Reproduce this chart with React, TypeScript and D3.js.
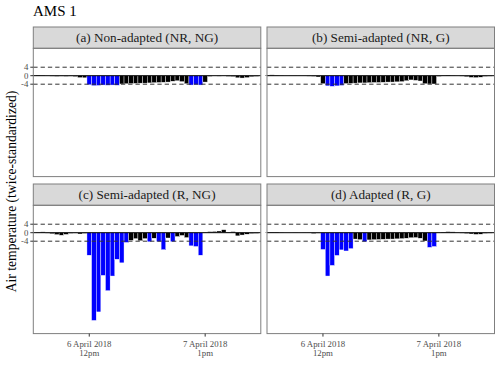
import React from "react";
import * as d3 from "d3";

// hourly values, index 0 = 6 April 2018 00:00
const nonAdapted = [
  0.2, 0.3, 0.2, -0.1, -0.2, -0.3, -0.2, -0.3, -0.2, -0.4, -0.9, -1.0,
  -4.3, -4.7, -4.6, -4.4, -4.5, -4.4, -4.5,
  -3.9, -3.8, -3.7, -3.6, -3.5, -3.5, -3.4, -3.3, -3.2, -3.1, -3.0, -2.6, -2.4, -2.8, -3.8,
  -4.4, -4.3, -4.4,
  -3.0, -0.3, -0.1, -0.2, -0.1, -0.3, -0.4, -1.0, -1.1, -0.9, -0.5, -0.3,
];
const semiAdaptedNRG = [
  0.3, 0.4, 0.2, 0.1, 0.0, -0.1, -0.1, -0.1, -0.1, -0.2, -0.3, -0.6,
  -3.8, -4.8, -5.0, -4.8, -4.6,
  -3.7, -3.6, -3.5, -3.4, -3.4, -3.3, -3.2, -3.2, -3.1, -3.0, -3.0, -2.9, -2.8, -2.4, -2.0, -2.2, -2.5,
  -3.8, -3.9, -3.9,
  -0.3, 0.2, 0.3, 0.1, 0.0, -0.2, -0.5, -0.8, -0.9, -0.7, -0.3, -0.2,
];
const semiAdaptedRNG = [
  0.1, 0.2, 0.4, -0.2, -0.5, -0.9, -1.2, -0.8, -0.3, -0.2, -0.6, -0.3,
  -10.6, -41.3, -37.3, -20.1, -27.3, -20.4, -12.5, -14.2, -4.6,
  -3.6, -2.8, -3.8, -2.8,
  -4.3, -2.6, -4.3, -8.0, -2.5, -4.3, -1.8, -1.3, -2.3,
  -6.2, -6.5, -10.6,
  0.2, 0.5, 0.6, 0.8, 1.4, 0.3, 0.5, -1.5, -1.1, -0.7, -0.4, -0.3,
];
const adapted = [
  0.2, 0.3, 0.3, 0.1, 0.0, 0.0, -0.1, 0.0, -0.1, -0.1, -0.4, -0.2,
  -7.9, -20.4, -15.4, -10.7, -8.1, -8.6, -7.5,
  -3.0, -3.3, -4.3,
  -3.4, -3.3, -3.2, -3.1, -3.0, -3.0, -2.9, -2.8, -2.6, -2.4, -2.3, -2.6,
  -3.9, -6.9, -6.5,
  0.1, 0.3, 0.5, 0.4, 0.1, -0.2, -0.4, -0.6, -0.8, -0.7, -0.3, -0.2,
];

const panelTitles = [
  "(a) Non-adapted (NR, NG)",
  "(b) Semi-adapted (NR, G)",
  "(c) Semi-adapted (R, NG)",
  "(d) Adapted (R, G)",
];
const panelSeries = [nonAdapted, semiAdaptedNRG, semiAdaptedRNG, adapted];

const yTicks = [4, 0, -4];
const limit = 4;
const xTickHours = [12, 37];
const xTickLabels = [
  ["6 April 2018", "12pm"],
  ["7 April 2018", "1pm"],
];

const font = "'Liberation Serif', 'Times New Roman', serif";

export default function App() {
  const colX = [33.3, 267];
  const rowY = [27, 184];
  const panelW = 227.5;
  const stripH = 21.3;
  const panelH = 128.3;

  const x = d3.scaleLinear().domain([-0.07, 49.0]).range([0, panelW]);
  const y = d3.scaleLinear().domain([12.9, -47.5]).range([0, panelH]);
  const bw = x(1) - x(0);

  return (
    <svg
      width={500}
      height={365}
      style={{ position: "absolute", left: 0, top: 0, background: "white" }}
      fontFamily={font}
    >
      <text x={33} y={16} fontSize={15} fill="#000">
        AMS 1
      </text>

      <text
        transform={`translate(16,191.5) rotate(-90)`}
        textAnchor="middle"
        fontSize={13.6}
        fill="#000"
      >
        Air temperature (twice-standardized)
      </text>

      {panelSeries.map((values, p) => {
        const col = p % 2;
        const row = Math.floor(p / 2);
        const px = colX[col];
        const sy = rowY[row];
        const py = sy + stripH;
        return (
          <g key={p}>
            <rect
              x={px}
              y={sy}
              width={panelW}
              height={stripH}
              fill="#d9d9d9"
              stroke="#7f7f7f"
              strokeWidth={1}
            />
            <text
              x={px + panelW / 2}
              y={sy + stripH / 2 + 4.5}
              textAnchor="middle"
              fontSize={13.2}
              fill="#1a1a1a"
            >
              {panelTitles[p]}
            </text>
            <g transform={`translate(${px},${py})`}>
              {values.map((v, i) => (
                <rect
                  key={i}
                  x={x(i) - bw / 2}
                  y={Math.min(y(v), y(0))}
                  width={bw}
                  height={Math.abs(y(v) - y(0))}
                  fill={v < -limit ? "#0000ff" : "#000000"}
                  stroke="#ffffff"
                  strokeWidth={0.4}
                />
              ))}
              <line x1={0} x2={panelW} y1={y(0)} y2={y(0)} stroke="#000" strokeWidth={1} />
              {[limit, -limit].map((t) => (
                <line
                  key={t}
                  x1={0}
                  x2={panelW}
                  y1={y(t)}
                  y2={y(t)}
                  stroke="#333"
                  strokeWidth={1}
                  strokeDasharray="4.3,3"
                />
              ))}
              <rect
                x={0}
                y={0}
                width={panelW}
                height={panelH}
                fill="none"
                stroke="#7f7f7f"
                strokeWidth={1}
              />
              {col === 0 &&
                yTicks.map((t) => (
                  <g key={t}>
                    <line x1={-3} x2={0} y1={y(t)} y2={y(t)} stroke="#333" strokeWidth={1} />
                    <text
                      x={-5}
                      y={y(t) + 3}
                      textAnchor="end"
                      fontSize={8.8}
                      fill="#4d4d4d"
                    >
                      {t}
                    </text>
                  </g>
                ))}
              {row === 1 &&
                xTickHours.map((h, k) => (
                  <g key={h}>
                    <line
                      x1={x(h)}
                      x2={x(h)}
                      y1={panelH}
                      y2={panelH + 3}
                      stroke="#333"
                      strokeWidth={1}
                    />
                    {xTickLabels[k].map((s, j) => (
                      <text
                        key={j}
                        x={x(h)}
                        y={panelH + 13 + j * 9}
                        textAnchor="middle"
                        fontSize={8.8}
                        fill="#4d4d4d"
                      >
                        {s}
                      </text>
                    ))}
                  </g>
                ))}
            </g>
          </g>
        );
      })}
    </svg>
  );
}
